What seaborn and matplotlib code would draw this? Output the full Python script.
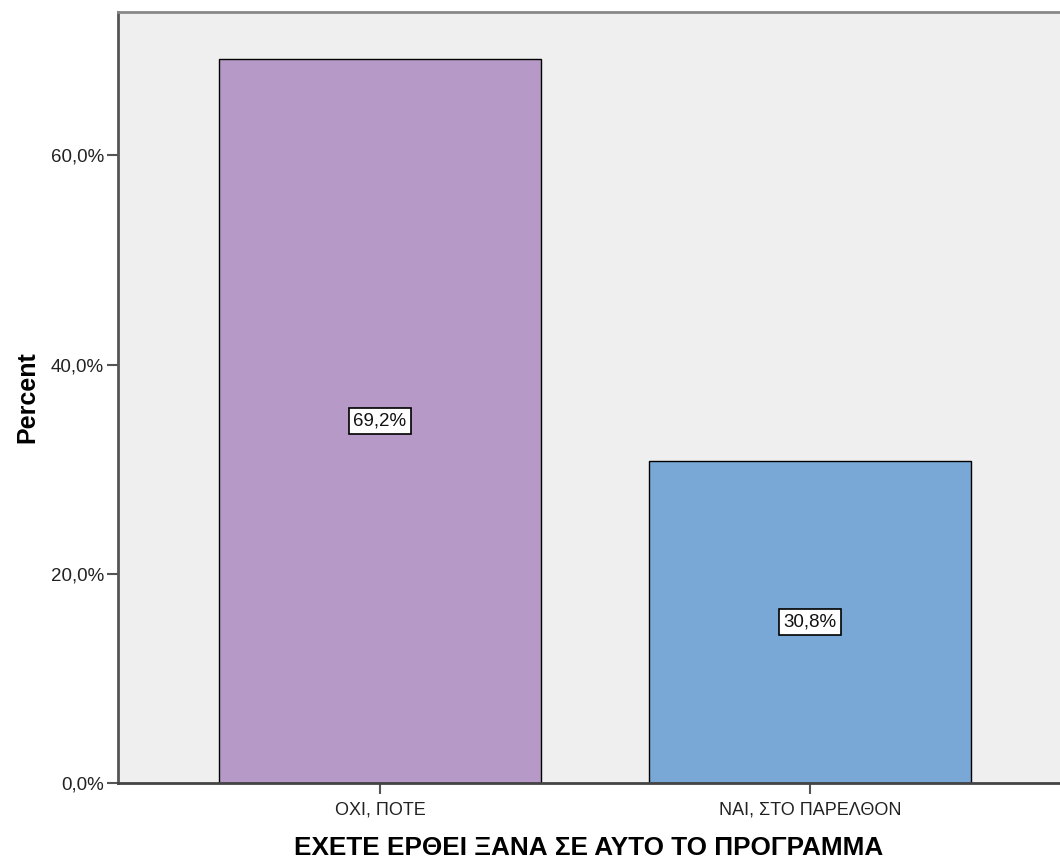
import pandas as pd
import seaborn as sns
from matplotlib import pyplot as plt
from matplotlib.ticker import FuncFormatter

# data
categories = ["ΟΧΙ, ΠΟΤΕ", "ΝΑΙ, ΣΤΟ ΠΑΡΕΛΘΟΝ"]
percent = [69.2, 30.8]
bar_colors = ["#B799C8", "#7AA8D6"]
y_ticks = [0, 20, 40, 60]

df = pd.DataFrame({"answer": categories, "percent": percent})

sns.set_style("white")
plt.rcParams['font.family'] = ['Liberation Sans', 'DejaVu Sans']

fig = plt.figure(figsize=(10.6, 8.6), dpi=100)
ax = fig.add_axes([118 / 1060, 77 / 860, 1 - 118 / 1060, (783 - 12) / 860])
ax.set_facecolor("#EFEFEF")

sns.barplot(data=df, x="answer", y="percent", hue="answer", palette=bar_colors, saturation=1,
            width=0.75, edgecolor="black", linewidth=1, legend=False, ax=ax)

# value labels in the middle of each bar
for i, val in enumerate(percent):
    ax.text(i, val / 2, f"{val:.1f}%".replace(".", ","), ha="center", va="center", fontsize=13.5,
            color="#111111",
            bbox=dict(boxstyle="square,pad=0.22", facecolor="white", edgecolor="black", linewidth=1.2))

ax.set_ylim(0, 73.7)
ax.set_xlim(-0.609, 1.581)
ax.set_yticks(y_ticks)
ax.yaxis.set_major_formatter(FuncFormatter(lambda v, p: f"{v:.1f}%".replace(".", ",")))
ax.tick_params(axis="both", direction="out", length=8, width=1.5, color="#555555",
               labelcolor="#222222", left=True, bottom=True)
ax.tick_params(axis="y", pad=2, labelsize=13.5)
ax.tick_params(axis="x", pad=5, labelsize=13)

for side in ["left", "top", "bottom"]:
    ax.spines[side].set_visible(True)
    ax.spines[side].set_linewidth(2)
ax.spines["left"].set_color("#555555")
ax.spines["bottom"].set_color("#444444")
ax.spines["top"].set_color("#888888")
ax.spines["right"].set_visible(False)

ax.set_xlabel("ΕΧΕΤΕ ΕΡΘΕΙ ΞΑΝΑ ΣΕ ΑΥΤΟ ΤΟ ΠΡΟΓΡΑΜΜΑ", fontsize=18.8, fontweight="bold",
              labelpad=13, color="black")
ax.set_ylabel("Percent", fontsize=18, fontweight="bold", labelpad=8, color="black")

plt.savefig("out.png", dpi=100)
